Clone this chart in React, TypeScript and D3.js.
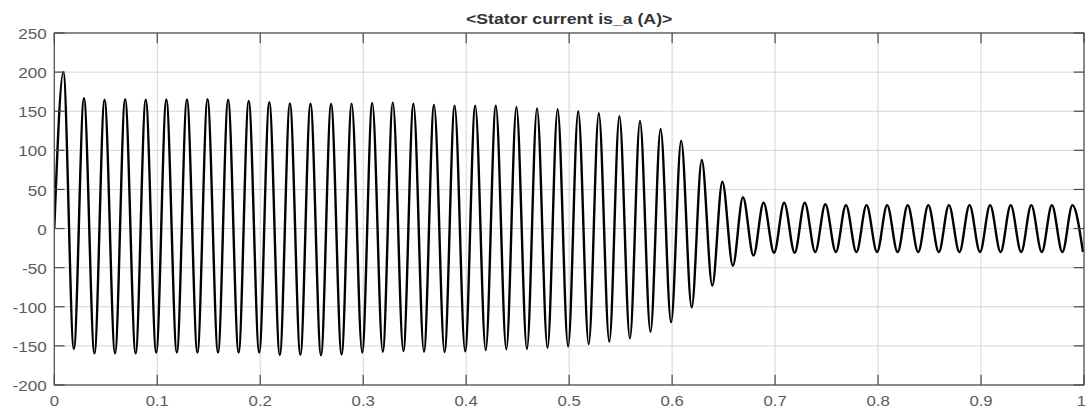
import React from "react";
import * as d3 from "d3";

// Positive peak of each 50 Hz cycle (A), first peak at ~0.0088 s, one every 0.02 s
const peakValues: number[] = [
  200, 166.5, 164.7, 165.5, 164.7, 165, 165, 165.5, 164.7, 163,
  161.5, 160, 159.7, 159.3, 159.7, 160.5, 161, 159.6, 157.9, 157,
  157, 157, 155.4, 153.7, 152.6, 150, 147.5, 143.5, 137.5, 127.2,
  112.3, 87.6, 59.9, 40, 33, 33, 33, 31, 30, 30,
  30, 30, 30, 30, 30, 30, 30, 30, 30, 30,
];
// Negative trough of each cycle (A), first trough at ~0.019 s, one every 0.02 s
const troughValues: number[] = [
  -154, -159.6, -159.6, -159.6, -158.4, -158.4, -158.4, -158.4, -158.4, -158.4,
  -161.8, -161.4, -161.8, -160.9, -158.4, -157.5, -156.6, -157.5, -157.9, -157,
  -155.4, -154.5, -154, -152.4, -150.7, -147.7, -144.7, -140.5, -132, -120,
  -100.8, -73, -47.5, -34.5, -31, -31, -30, -30, -30, -30,
  -30, -30, -30, -30, -30, -30, -30, -30, -30, -30,
];
const startValue = 0;
const firstPeakTime = 0.0088;
const firstTroughTime = 0.019;
const cyclePeriod = 0.02;

const xTicks: number[] = [0, 0.1, 0.2, 0.3, 0.4, 0.5, 0.6, 0.7, 0.8, 0.9, 1];
const yTicks: number[] = [-200, -150, -100, -50, 0, 50, 100, 150, 200, 250];
const title = "<Stator current is_a (A)>";

export default function App() {
  const W = 1087;
  const H = 412;
  const left = 54.3;
  const right = 1084;
  const top = 33;
  const bottom = 385;

  const x = d3.scaleLinear().domain([0, 1]).range([left, right]);
  const y = d3.scaleLinear().domain([-200, 250]).range([bottom, top]);

  const pts: [number, number][] = [[0, startValue]];
  peakValues.forEach((p, i) => {
    pts.push([firstPeakTime + i * cyclePeriod, p]);
    if (i < troughValues.length) {
      pts.push([firstTroughTime + i * cyclePeriod, troughValues[i]]);
    }
  });

  const line = d3
    .line<[number, number]>()
    .x((d) => x(d[0]))
    .y((d) => y(d[1]))
    .curve(d3.curveMonotoneX);

  const tickLen = 10.3;
  const axisColor = "#4a4a4a";
  const gridColor = "#d6d6d6";
  const labelColor = "#5c5c5c";
  const font = "Arial, 'Liberation Sans', Helvetica, sans-serif";
  const sx = 1.18;

  return (
    <svg
      width={W}
      height={H}
      style={{ position: "absolute", left: 0, top: 0, background: "#fff" }}
    >
      <rect x={0} y={0} width={W} height={H} fill="#fff" />
      <defs>
        <clipPath id="plotclip">
          <rect x={left} y={top} width={right - left} height={bottom - top} />
        </clipPath>
      </defs>
      {/* grid */}
      {xTicks.map((t) => (
        <line
          key={"gx" + t}
          x1={x(t)}
          x2={x(t)}
          y1={top}
          y2={bottom}
          stroke={gridColor}
          strokeWidth={1}
        />
      ))}
      {yTicks.map((t) => (
        <line
          key={"gy" + t}
          x1={left}
          x2={right}
          y1={y(t)}
          y2={y(t)}
          stroke={gridColor}
          strokeWidth={1}
        />
      ))}
      {/* signal */}
      <path
        d={line(pts) || ""}
        fill="none"
        stroke="#000"
        strokeWidth={2.4}
        strokeLinejoin="round"
        clipPath="url(#plotclip)"
      />
      {/* box */}
      <rect
        x={left}
        y={top}
        width={right - left}
        height={bottom - top}
        fill="none"
        stroke={axisColor}
        strokeWidth={1.2}
      />
      {/* ticks */}
      {xTicks.map((t, i) => {
        const last = i === xTicks.length - 1;
        const tx = last ? W - 1 : x(t);
        return (
          <g key={"tx" + t}>
            <line x1={x(t)} x2={x(t)} y1={bottom} y2={bottom - tickLen} stroke={axisColor} strokeWidth={1.2} />
            <line x1={x(t)} x2={x(t)} y1={top} y2={top + tickLen} stroke={axisColor} strokeWidth={1.2} />
            <text
              transform={`translate(${tx},${bottom + 21}) scale(${sx},1)`}
              textAnchor={last ? "end" : "middle"}
              fontFamily={font}
              fontSize={14.2}
              fill={labelColor}
            >
              {String(t)}
            </text>
          </g>
        );
      })}
      {yTicks.map((t) => (
        <g key={"ty" + t}>
          <line x1={left} x2={left + tickLen} y1={y(t)} y2={y(t)} stroke={axisColor} strokeWidth={1.2} />
          <line x1={right} x2={right - tickLen} y1={y(t)} y2={y(t)} stroke={axisColor} strokeWidth={1.2} />
          <text
            transform={`translate(${left - 7.5},${y(t)}) scale(${sx},1)`}
            dy="0.42em"
            textAnchor="end"
            fontFamily={font}
            fontSize={14.5}
            fill={labelColor}
          >
            {String(t)}
          </text>
        </g>
      ))}
      <text
        transform={`translate(${(left + right) / 2},24) scale(${sx},1)`}
        textAnchor="middle"
        fontFamily={font}
        fontSize={15}
        fontWeight="bold"
        fill="#333"
      >
        {title}
      </text>
    </svg>
  );
}
